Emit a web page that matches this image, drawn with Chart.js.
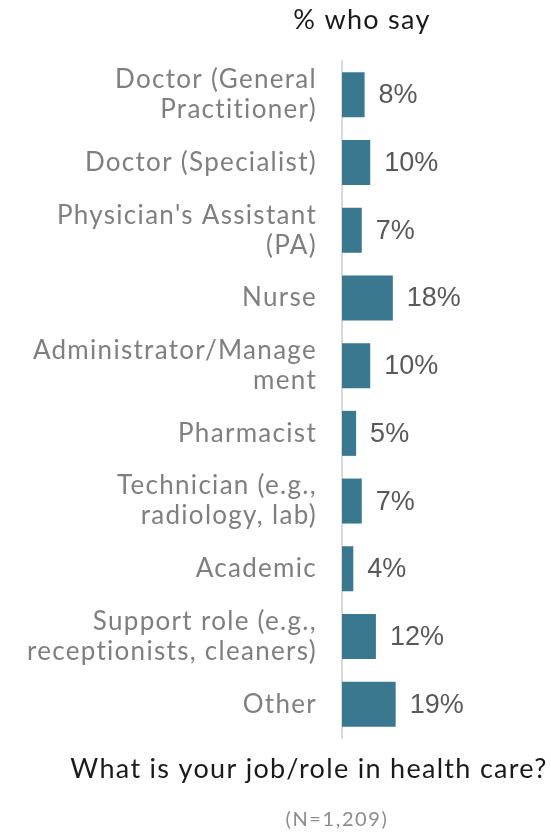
<!DOCTYPE html>
<html>
<head>
<meta charset="utf-8">
<script src="https://cdn.jsdelivr.net/npm/chart.js@4"></script>
<style>
  html, body { margin: 0; padding: 0; background: #fff; }
  #wrap { width: 551px; height: 834px; position: relative; }
</style>
</head>
<body>
<div id="wrap"><canvas id="chart" width="551" height="834"></canvas></div>
<script>
  "use strict";

  // data
  const categories = [
    ["Doctor (General", "Practitioner)"],
    "Doctor (Specialist)",
    ["Physician's Assistant", "(PA)"],
    "Nurse",
    ["Administrator/Manage", "ment"],
    "Pharmacist",
    ["Technician (e.g.,", "radiology, lab)"],
    "Academic",
    ["Support role (e.g.,", "receptionists, cleaners)"],
    "Other",
  ];
  const values = [8, 10, 7, 18, 10, 5, 7, 4, 12, 19];
  const topTitle = "% who say";
  const question = "What is your job/role in health care?";
  const sampleNote = "(N=1,209)";

  const BAR = "#3a7890";
  const LABEL_FONT = "Lato, 'Open Sans', sans-serif";
  // Raleway isn't available, Lato with a bit of tracking gets close
  const TRACKING = "1.3px";

  const tracking = {
    id: "tracking",
    beforeDraw(chart) {
      chart.ctx.letterSpacing = TRACKING;
    },
  };

  const valueLabels = {
    id: "valueLabels",
    afterDatasetsDraw(chart) {
      const ctx = chart.ctx;
      const meta = chart.getDatasetMeta(0);
      ctx.save();
      ctx.letterSpacing = "0px";
      ctx.fillStyle = "#595959";
      ctx.font = "27px 'Liberation Sans', Arial, sans-serif";
      ctx.textAlign = "left";
      ctx.textBaseline = "middle";
      meta.data.forEach((bar, i) => {
        ctx.fillText(values[i] + "%", bar.x + 14, bar.y + 1);
      });
      ctx.restore();
    },
  };

  const captions = {
    id: "captions",
    afterDraw(chart) {
      const ctx = chart.ctx;
      ctx.save();
      ctx.letterSpacing = TRACKING;
      ctx.textAlign = "center";
      ctx.textBaseline = "alphabetic";
      ctx.fillStyle = "#1a1a1a";
      ctx.font = "27px " + LABEL_FONT;
      ctx.fillText(topTitle, 362, 29);
      ctx.fillText(question, 309, 778);
      ctx.fillStyle = "#8c8c8c";
      ctx.letterSpacing = "1.6px";
      ctx.font = "20px " + LABEL_FONT;
      ctx.fillText(sampleNote, 337, 826);
      ctx.restore();
    },
  };

  new Chart(document.getElementById("chart"), {
    type: "bar",
    data: {
      labels: categories,
      datasets: [
        {
          data: values,
          backgroundColor: BAR,
          borderWidth: 0,
          categoryPercentage: 1,
          barPercentage: 0.665,
        },
      ],
    },
    options: {
      indexAxis: "y",
      responsive: false,
      animation: false,
      layout: { padding: { top: 61, bottom: 96, left: 0, right: 0 } },
      plugins: {
        legend: { display: false },
        tooltip: { enabled: false },
      },
      scales: {
        x: {
          display: false,
          min: 0,
          max: 74,
        },
        y: {
          afterFit(scale) {
            scale.width = 342;
          },
          grid: { display: false, drawTicks: false },
          border: { display: true, color: "#d9d9d9", width: 2 },
          ticks: {
            color: "#7f7f7f",
            padding: 25,
            font: { family: LABEL_FONT, size: 26, lineHeight: 1.15 },
          },
        },
      },
    },
    plugins: [tracking, valueLabels, captions],
  });
</script>
</body>
</html>
